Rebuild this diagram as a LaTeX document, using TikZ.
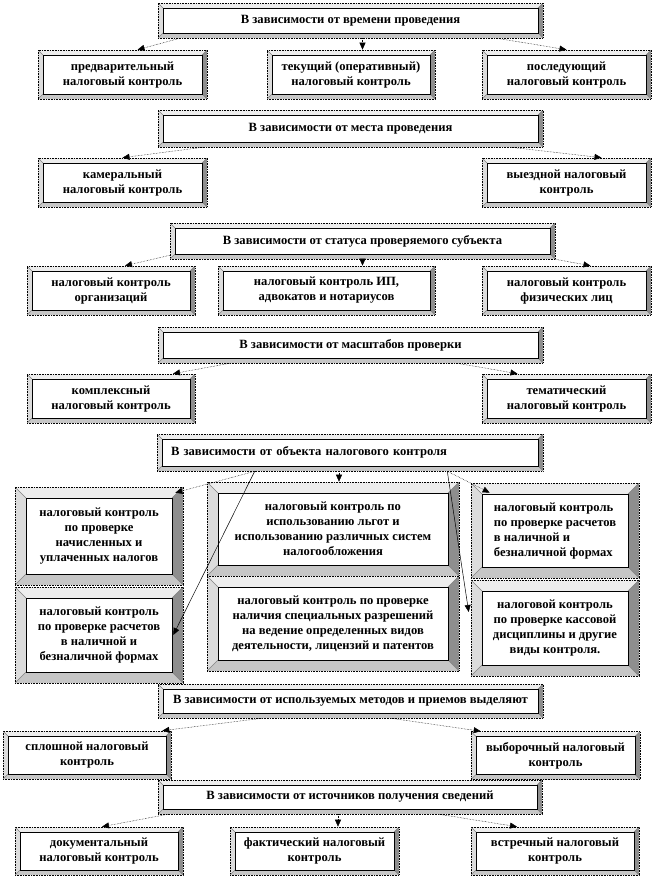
\documentclass[tikz,border=0pt]{standalone}
\usepackage{fontspec}
\setmainfont{Liberation Serif}
\usetikzlibrary{arrows.meta}
\definecolor{bvtop}{HTML}{EDEDED}
\definecolor{bvleft}{HTML}{DCDCDC}
\definecolor{bvbot}{HTML}{C6C6C6}
\definecolor{bvright}{HTML}{8E8E8E}
\tikzset{
  bevel/.style={rectangle, draw, densely dotted, line width=0.6pt, inner sep=0pt, align=center,
    font=\fontsize{12.6}{15}\selectfont\bfseries,
    path picture={
      \path (path picture bounding box.north west) coordinate (bvA);
      \path (path picture bounding box.south east) coordinate (bvC);
      \path ([shift={(#1pt,-#1pt)}]bvA) coordinate (bva);
      \path ([shift={(-#1pt,#1pt)}]bvC) coordinate (bvc);
      \fill[bvtop] (bvA) -- (bvA -| bvC) -- (bva -| bvc) -- (bva) -- cycle;
      \fill[bvright] (bvA -| bvC) -- (bvC) -- (bvc) -- (bva -| bvc) -- cycle;
      \fill[bvbot] (bvC) -- (bvA |- bvC) -- (bva |- bvc) -- (bvc) -- cycle;
      \fill[bvleft] (bvA |- bvC) -- (bvA) -- (bva) -- (bva |- bvc) -- cycle;
      \draw[solid, gray, line width=0.4pt] (bvA) -- (bva) (bvA -| bvC) -- (bva -| bvc)
        (bvC) -- (bvc) (bvA |- bvC) -- (bva |- bvc);
      \draw[solid, fill=white, line width=0.8pt] (bva) rectangle (bvc);
    }},
  bevel/.default=5,
  dotarrow/.style={densely dotted, line width=0.5pt, -{Triangle[length=7pt,width=6pt]}},
  linearrow/.style={line width=0.5pt, -{Triangle[length=7pt,width=6pt]}}
}
\begin{document}
\begin{tikzpicture}[x=1pt,y=-1pt]
        \useasboundingbox (0,0) rectangle (654,879);
        \node[bevel, minimum width=385pt, minimum height=35pt] (h1) at (350.5,20.5) {В зависимости от времени проведения};
        \node[bevel, minimum width=169pt, minimum height=49pt] (a1) at (122.5,74.5) {предварительный\\налоговый контроль};
        \node[bevel, minimum width=168pt, minimum height=49pt] (a2) at (351,74.5) {текущий (оперативный)\\налоговый контроль};
        \node[bevel, minimum width=169pt, minimum height=49pt] (a3) at (566.5,74.5) {последующий\\налоговый контроль};
            \draw[dotarrow] ([xshift=22pt]h1.south west) -- ([xshift=15pt]a1.north);
            \draw[dotarrow] ([xshift=12pt]h1.south) -- ([xshift=12pt]h1.south |- a2.north);
            \draw[dotarrow] ([xshift=-46pt]h1.south east) -- (a3.north);

        \node[bevel, minimum width=385pt, minimum height=37pt] (h2) at (350.5,128.5) {В зависимости от места проведения};
        \node[bevel, minimum width=169pt, minimum height=49pt] (b1) at (122.5,182.5) {камеральный\\налоговый контроль};
        \node[bevel, minimum width=169pt, minimum height=49pt] (b2) at (566.5,182.5) {выездной налоговый\\контроль};
            \draw[dotarrow] ([xshift=45pt]h2.south west) -- (b1.north);
            \draw[dotarrow] ([xshift=-32pt]h2.south east) -- ([xshift=35pt]b2.north);

        \node[bevel, minimum width=385pt, minimum height=36pt] (h3) at (362.5,241) {В зависимости от статуса проверяемого субъекта};
        \node[bevel, minimum width=168pt, minimum height=49pt] (c1) at (111,290.5) {налоговый контроль\\организаций};
        \node[bevel, minimum width=217pt, minimum height=49pt] (c2) at (326.5,290.5) {налоговый контроль ИП,\\адвокатов и нотариусов};
        \node[bevel, minimum width=169pt, minimum height=49pt] (c3) at (566.5,290.5) {налоговый контроль\\физических лиц};
            \draw[dotarrow] ([yshift=4pt]h3.south west) -- ([xshift=14pt]c1.north);
            \draw[dotarrow] (h3.south) -- (h3.south |- c2.north);
            \draw[dotarrow] (h3.south east) -- ([xshift=24pt]c3.north);

        \node[bevel, minimum width=385pt, minimum height=36pt] (h4) at (350.5,345) {В зависимости от масштабов проверки};
        \node[bevel, minimum width=168pt, minimum height=49pt] (d1) at (111,398.5) {комплексный\\налоговый контроль};
        \node[bevel, minimum width=169pt, minimum height=49pt] (d2) at (566.5,398.5) {тематический\\налоговый контроль};
            \draw[dotarrow] ([xshift=72pt]h4.south west) -- ([xshift=62pt]d1.north);
            \draw[dotarrow] ([xshift=-86pt]h4.south east) -- ([xshift=-49pt]d2.north);

        \node[bevel, minimum width=386pt, minimum height=37pt, text width=358pt, align=left] (h5) at (350,452.5) {В зависимости от объекта налогового контроля};
        \node[bevel=11, minimum width=168pt, minimum height=98pt] (e1) at (99,536) {налоговый контроль\\по проверке\\начисленных и\\уплаченных налогов};
        \node[bevel=11, minimum width=168pt, minimum height=96pt] (e2) at (99,635) {налоговый контроль\\по проверке расчетов\\в наличной и\\безналичной формах};
        \node[bevel=11, minimum width=252pt, minimum height=94pt] (e3) at (333,529) {налоговый контроль по\\использованию льгот и\\использованию различных систем\\налогообложения};
        \node[bevel=11, minimum width=252pt, minimum height=95pt] (e4) at (333,623.5) {налоговый контроль по проверке\\наличия специальных разрешений\\на ведение определенных видов\\деятельности, лицензий и патентов};
        \node[bevel=11, minimum width=168pt, minimum height=95pt, align=left] (e5) at (555,530.5) {налоговый контроль\\по проверке расчетов\\в наличной и\\безналичной формах};
        \node[bevel=11, minimum width=168pt, minimum height=96pt] (e6) at (555,628) {налоговой контроль\\по проверке кассовой\\дисциплины и другие\\виды контроля.};
            \draw[dotarrow] ([xshift=98pt]h5.south west) -- ([shift={(-8pt,-6pt)}]e1.north east);
            \draw[linearrow] ([xshift=98pt]h5.south west) -- ([xshift=-10pt]e2.east);
            \draw[dotarrow] ([xshift=-11pt]h5.south) -- ([xshift=-11pt]h5.south |- e3.north);
            \draw[linearrow] ([xshift=-96pt]h5.south east) -- ([shift={(-2pt,16pt)}]e6.west);
            \draw[dotarrow] ([xshift=-96pt]h5.south east) -- ([shift={(19pt,-10pt)}]e5.north west);

        \node[bevel, minimum width=385pt, minimum height=34pt] (h6) at (350.5,701) {В зависимости от используемых методов и приемов выделяют};
        \node[bevel, minimum width=168pt, minimum height=48pt] (f1) at (87,755) {сплошной налоговый\\контроль};
        \node[bevel, minimum width=169pt, minimum height=48pt] (f2) at (555.5,755.5) {выборочный налоговый\\контроль};
            \draw[dotarrow] ([xshift=104pt]h6.south west) -- ([xshift=-9pt]f1.north east);
            \draw[dotarrow] ([xshift=-152pt]h6.south east) -- ([xshift=10pt]f2.north west);

        \node[bevel, minimum width=384pt, minimum height=34pt] (h7) at (350,797) {В зависимости от источников получения сведений};
        \node[bevel, minimum width=168pt, minimum height=48pt] (g1) at (99,851) {документальный\\налоговый контроль};
        \node[bevel, minimum width=169pt, minimum height=48pt] (g2) at (314.5,851) {фактический налоговый\\контроль};
        \node[bevel, minimum width=168pt, minimum height=48pt] (g3) at (555,851) {встречный налоговый\\контроль};
            \draw[dotarrow] ([xshift=10pt]h7.south west) -- ([xshift=3pt]g1.north);
            \draw[dotarrow] ([xshift=-12pt]h7.south) -- ([xshift=-12pt]h7.south |- g2.north);
            \draw[dotarrow] ([xshift=-103pt]h7.south east) -- ([xshift=-38pt]g3.north);
\end{tikzpicture}
\end{document}
